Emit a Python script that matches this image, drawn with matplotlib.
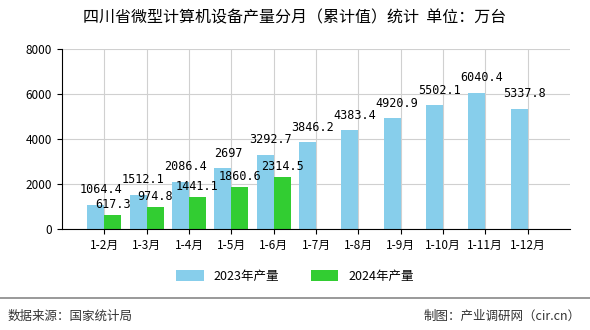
import matplotlib
matplotlib.use("Agg")
import matplotlib.pyplot as plt
import numpy as np

plt.rcParams['font.family'] = ['Noto Sans CJK SC', 'DejaVu Sans']

# data
months = ['1-2月', '1-3月', '1-4月', '1-5月', '1-6月', '1-7月', '1-8月',
          '1-9月', '1-10月', '1-11月', '1-12月']
output_2023 = [1064.4, 1512.1, 2086.4, 2697, 3292.7, 3846.2, 4383.4,
               4920.9, 5502.1, 6040.4, 5337.8]
output_2024 = [617.3, 974.8, 1441.1, 1860.6, 2314.5]
labels_2023 = ['1064.4', '1512.1', '2086.4', '2697', '3292.7', '3846.2',
               '4383.4', '4920.9', '5502.1', '6040.4', '5337.8']
labels_2024 = ['617.3', '974.8', '1441.1', '1860.6', '2314.5']

c2023 = '#87CEEB'
c2024 = '#32CD32'

fig = plt.figure(figsize=(5.9, 3.3), dpi=100)
ax = fig.add_axes([0.105, 0.306, 0.861, 0.546])

x = np.arange(len(months))
w = 0.4
x24 = np.arange(len(output_2024))

b1 = ax.bar(x - w / 2, output_2023, w, color=c2023, label='2023年产量', zorder=2)
b2 = ax.bar(x24 + w / 2, output_2024, w, color=c2024, label='2024年产量', zorder=2)

for xi, v, t in zip(x, output_2023, labels_2023):
    ax.text(xi - w / 2 + 0.12, v + 380, t, ha='center', va='bottom',
            fontsize=8.5, family='DejaVu Sans Mono', zorder=3)
for xi, v, t in zip(x24, output_2024, labels_2024):
    ax.text(xi + w / 2, v + 180, t, ha='center', va='bottom',
            fontsize=8.5, family='DejaVu Sans Mono', zorder=3)

ax.set_xlim(-1, len(months))
ax.set_ylim(0, 8000)
ax.set_yticks([0, 2000, 4000, 6000, 8000])
ax.set_xticks(x)
ax.set_xticklabels(months, fontsize=8.5)
ax.tick_params(axis='y', labelsize=8.5)
ax.grid(True, color='#d0d0d0', linewidth=0.8, zorder=0)
for s in ['top', 'right']:
    ax.spines[s].set_visible(False)

fig.text(0.5, 0.945, '四川省微型计算机设备产量分月（累计值）统计  单位：万台',
         ha='center', va='center', fontsize=11.5)

fig.legend(handles=[b1, b2], loc='center', bbox_to_anchor=(0.5, 0.163),
           ncol=2, frameon=False, fontsize=9, handlelength=2.2,
           handleheight=0.9, columnspacing=2.5)

fig.add_artist(plt.Line2D([0, 1], [0.097, 0.097], color='#888888', linewidth=1.2))
fig.text(0.012, 0.042, '数据来源：国家统计局', ha='left', va='center', fontsize=9, color='#333333')
fig.text(0.985, 0.042, '制图：产业调研网（cir.cn）', ha='right', va='center', fontsize=9, color='#333333')

fig.savefig('out.png', dpi=100)
